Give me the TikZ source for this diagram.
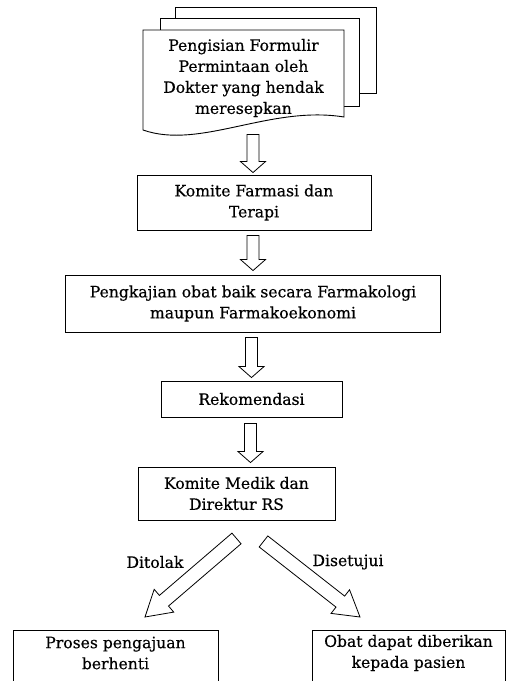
\documentclass[tikz,border=0pt]{standalone}
\usepackage{fontspec}
\setmainfont{DejaVu Serif}[FakeBold=0.4]
\usetikzlibrary{calc}
\tikzset{
  txt/.style={font=\fontsize{15.6}{21}\selectfont},
  box/.style={draw, line width=0.9pt, align=center, inner sep=0pt, txt},
  lbl/.style={align=center, inner sep=0pt, txt},
  harrow/.style={draw, line width=0.8pt, fill=white, line join=miter},
  sheet/.style={draw, line width=0.9pt, fill=white},
}
\newcommand{\blockarr}[5]{%
  \path ($(#2)!#5!(#1)$) coordinate (hb);
  \draw[harrow] ($(#1)!#3!90:(#2)$) -- ($(hb)!#3!90:(#2)$) -- ($(hb)!#4!90:(#2)$)
    -- (#2) -- ($(hb)!#4!-90:(#2)$) -- ($(hb)!#3!-90:(#2)$) -- ($(#1)!#3!-90:(#2)$) -- cycle;
}
\begin{document}
\begin{tikzpicture}[x=1pt,y=-1pt]
\useasboundingbox (0,0) rectangle (507,681);
\clip (0,0) rectangle (507,681);
\fill[white] (0,0) rectangle (507,681);

% multi-document
\draw[sheet] (175,7) rectangle (376,93);
\draw[sheet] (160,18) rectangle (359,106);
\draw[sheet] (143,130) -- (143,30) -- (344,30) -- (344,117)
  .. controls (270,105) and (200,150) .. (143,130) -- cycle;
\node[lbl] (doc) at (243.5,78) {Pengisian Formulir\\Permintaan oleh\\Dokter yang hendak\\meresepkan};

% boxes
\node[box, minimum width=234, minimum height=55] (kft) at (254,202.5) {Komite Farmasi dan\\Terapi};
\node[box, minimum width=375, minimum height=57] (kaji) at (253,303.5) {Pengkajian obat baik secara Farmakologi\\maupun Farmakoekonomi};
\node[box, minimum width=181, minimum height=36] (rek) at (251.5,399) {Rekomendasi};
\node[box, minimum width=197, minimum height=53] (kmd) at (236.5,493.5) {Komite Medik dan\\Direktur RS};

\node[box, minimum width=205, minimum height=70, anchor=north] (rej) at (115.5,630) {};
\node[lbl] (rejt) at ($(rej.north)+(0,23)$) {Proses pengajuan\\berhenti};
\node[box, minimum width=193, minimum height=70, anchor=north] (acc) at (408.5,630) {};
\node[lbl] (acct) at ($(acc.north)+(0,23)$) {Obat dapat diberikan\\kepada pasien};

% arrow coordinates
\coordinate (a1s) at ($(kft.north)+(-1,-40)$);
\coordinate (a1e) at ($(kft.north)+(-1,-2)$);
\coordinate (a2s) at ($(kft.south)+(-1,5)$);
\coordinate (a2e) at ($(kaji.north)+(0,-4)$);
\coordinate (a3s) at ($(rek.north)+(0,-43)$);
\coordinate (a3e) at ($(rek.north)+(0,-3)$);
\coordinate (a4s) at ($(rek.south)+(-1,6)$);
\coordinate (a4e) at ($(kmd.north)+(14,-4)$);
\coordinate (a5s) at ($(kmd.south)+(0,18)$);
\coordinate (a5e) at ($(rej.north)+(29.5,-13)$);
\coordinate (a6s) at ($(kmd.south)+(27,21)$);
\coordinate (a6e) at ($(acc.north)+(-48.5,-13)$);

\blockarr{a1s}{a1e}{6pt}{12.5pt}{11pt}
\blockarr{a2s}{a2e}{6pt}{12.5pt}{11pt}
\blockarr{a3s}{a3e}{6pt}{12.5pt}{11pt}
\blockarr{a4s}{a4e}{6pt}{12.5pt}{11pt}
\blockarr{a5s}{a5e}{7pt}{15pt}{25pt}
\blockarr{a6s}{a6e}{7pt}{15pt}{25pt}

\node[lbl] (tol) at (155,562) {Ditolak};
\node[lbl] (set) at (348,562) {Disetujui};
\end{tikzpicture}
\end{document}
